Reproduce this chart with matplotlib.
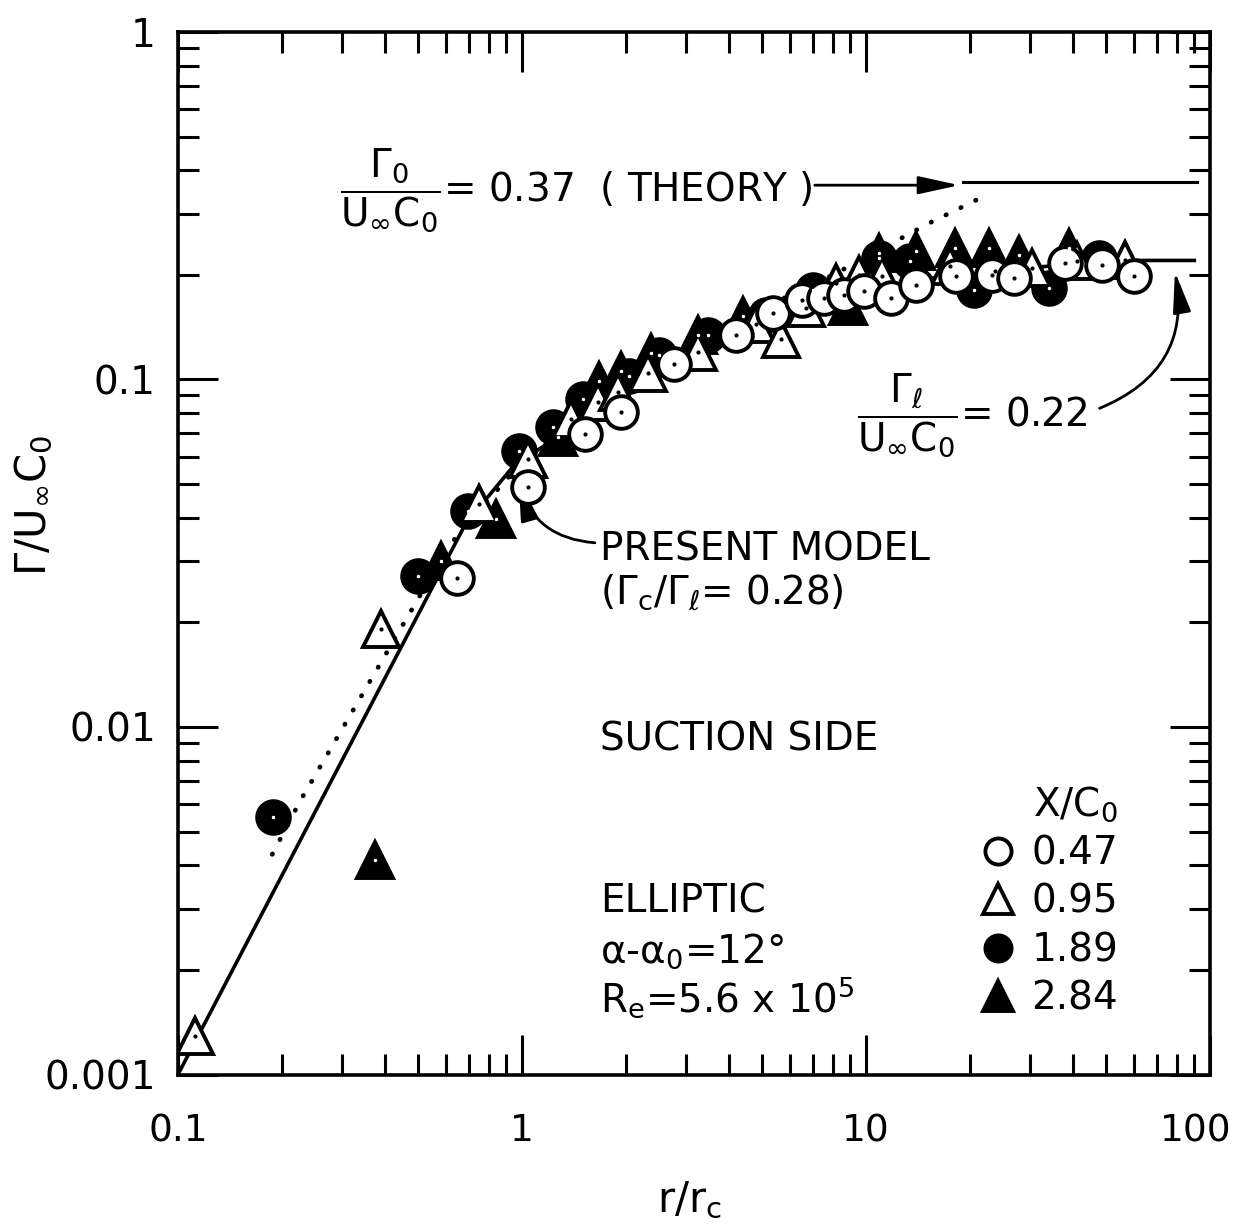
import matplotlib.pyplot as plt
from matplotlib.ticker import NullFormatter
from matplotlib.transforms import ScaledTranslation

plt.rcParams['font.family'] = 'DejaVu Sans'
plt.rcParams['mathtext.fontset'] = 'dejavusans'
plt.rcParams['mathtext.default'] = 'regular'

r_047 = [0.646, 1.04, 1.52, 1.94, 2.77, 4.19, 5.37, 6.53, 7.57, 8.65, 9.89, 11.85, 14.0, 18.3, 23.2, 26.9, 37.8, 48.5, 60.1]
g_047 = [0.0268, 0.0491, 0.0698, 0.0808, 0.1105, 0.134, 0.155, 0.169, 0.1715, 0.175, 0.1796, 0.1715, 0.187, 0.1985, 0.2, 0.196, 0.2165, 0.2135, 0.1985]

r_095 = [0.112, 0.388, 0.748, 1.04, 1.387, 1.66, 1.90, 2.32, 3.25, 4.80, 5.67, 6.71, 8.20, 9.51, 11.1, 17.5, 23.7, 30.3, 41.0, 56.6]
g_095 = [0.00129, 0.0191, 0.0438, 0.0591, 0.0771, 0.0864, 0.0923, 0.1047, 0.1197, 0.144, 0.1305, 0.1604, 0.19, 0.2, 0.1985, 0.212, 0.205, 0.209, 0.219, 0.221]

r_189 = [0.189, 0.50, 0.695, 0.978, 1.23, 1.50, 2.05, 2.50, 3.47, 5.13, 7.03, 10.9, 13.4, 20.6, 34.0, 47.5]
g_189 = [0.0055, 0.0272, 0.0418, 0.0623, 0.0731, 0.0881, 0.102, 0.1173, 0.134, 0.153, 0.181, 0.224, 0.219, 0.181, 0.183, 0.224]

r_284 = [0.375, 0.58, 0.838, 1.27, 1.67, 1.94, 2.37, 3.25, 4.40, 8.89, 10.9, 14.0, 18.1, 22.7, 27.8, 38.9]
g_284 = [0.00413, 0.030, 0.0397, 0.0685, 0.0993, 0.1055, 0.119, 0.134, 0.152, 0.1626, 0.231, 0.234, 0.239, 0.239, 0.228, 0.239]

stations = ['0.47', '0.95', '1.89', '2.84']

# present model (solid) and dotted curve
r_model = [0.1, 0.685, 0.94, 1.12, 2.0, 4.0, 8.0, 15.0, 30.0, 60.0, 90.0]
g_model = [0.001, 0.0384, 0.056, 0.063, 0.09, 0.13, 0.17, 0.195, 0.21, 0.22, 0.22]

r_dot = [0.188, 0.226, 0.514, 0.64, 1.0, 2.0, 4.0, 7.5, 15.3, 21.0]
g_dot = [0.0043, 0.0061, 0.0246, 0.035, 0.058, 0.095, 0.145, 0.193, 0.282, 0.329]

# theory level
r_theory = [19.2, 91.6]
g_theory = [0.37, 0.37]

x_ticks = [0.1, 1, 10, 100]
x_ticklabels = ['0.1', '1', '10', '100']
y_ticks = [0.001, 0.01, 0.1, 1]
y_ticklabels = ['0.001', '0.01', '0.1', '1']

FS = 28
ms = 23.5
mew = 2.8

fig = plt.figure(figsize=(12.36, 12.28), dpi=100)
ax = fig.add_axes([0.144, 0.125, 0.835, 0.849])
ax.set_xscale('log')
ax.set_yscale('log')
ax.set_xlim(0.1, 100)
ax.set_ylim(0.001, 1)

ax.plot(r_model, g_model, color='k', lw=2.6, zorder=2)
ax.plot(r_theory, g_theory, color='k', lw=2.2, zorder=2)
ax.plot(r_dot, g_dot, color='k', lw=3.4, linestyle=(0, (0.1, 3.4)),
        dash_capstyle='round', zorder=2)

h284, = ax.plot(r_284, g_284, '^', ms=ms + 3, mfc='k', mec='k', mew=mew, ls='none', zorder=3)
h189, = ax.plot(r_189, g_189, 'o', ms=ms, mfc='k', mec='k', mew=mew, ls='none', zorder=3)
h095, = ax.plot(r_095, g_095, '^', ms=ms + 3, mfc='white', mec='k', mew=mew, ls='none', zorder=4)
h047, = ax.plot(r_047, g_047, 'o', ms=ms, mfc='white', mec='k', mew=mew, ls='none', zorder=4)
# centre dots of the plotting symbols
ax.plot(r_284, g_284, '.', ms=3, color='white', zorder=5)
ax.plot(r_189, g_189, '.', ms=3, color='white', zorder=5)
ax.plot(r_095, g_095, '.', ms=4, color='k', zorder=5)
ax.plot(r_047, g_047, '.', ms=4, color='k', zorder=5)

ax.set_xticks(x_ticks, labels=x_ticklabels)
ax.set_yticks(y_ticks, labels=y_ticklabels)
ax.xaxis.set_minor_formatter(NullFormatter())
ax.yaxis.set_minor_formatter(NullFormatter())
ax.tick_params(which='both', direction='in', top=True, right=True, width=2.2, labelsize=FS)
ax.tick_params(which='major', length=29)
ax.tick_params(which='minor', length=15)
ax.tick_params(axis='x', which='major', pad=28, labelsize=27)
ax.tick_params(axis='y', which='major', pad=16)
for s in ax.spines.values():
    s.set_linewidth(2.6)

# the last x label sits a little left of its tick, as in the original
last = ax.xaxis.get_major_ticks()[-1].label1
last.set_transform(last.get_transform() + ScaledTranslation(-10 / 72, 0, fig.dpi_scale_trans))

ax.set_ylabel(r'$\Gamma/U_{\infty}C_0$', fontsize=30)
ax.yaxis.set_label_coords(-0.119, 0.546)
ax.set_xlabel(r'$r/r_c$', fontsize=30)
ax.xaxis.set_label_coords(0.496, -0.100)
ax.xaxis.label.set_va('top')

tr = ax.transAxes
ax.text(0.157, 0.848, r'$\dfrac{\Gamma_0}{U_{\infty}C_0}$= 0.37  ( THEORY )', transform=tr,
        fontsize=FS, ha='left', va='center')
ax.annotate('', xy=(0.757, 0.853), xytext=(0.617, 0.853), xycoords=tr, textcoords=tr,
            arrowprops=dict(arrowstyle='-|>,head_length=1.0,head_width=0.22', lw=2, color='k',
                            mutation_scale=25, shrinkA=0, shrinkB=0))

ax.text(0.658, 0.632, r'$\dfrac{\Gamma_\ell}{U_{\infty}C_0}$= 0.22', transform=tr,
        fontsize=FS, ha='left', va='center')
ax.annotate('', xy=(0.966, 0.770), xytext=(0.893, 0.639), xycoords=tr, textcoords=tr,
            arrowprops=dict(arrowstyle='-|>,head_length=1.0,head_width=0.22', lw=2, color='k',
                            mutation_scale=25, shrinkA=0, shrinkB=0,
                            connectionstyle='arc3,rad=0.4'))

ax.text(0.409, 0.493, 'PRESENT MODEL', transform=tr, fontsize=FS, ha='left', va='baseline')
ax.text(0.409, 0.452, r'($\Gamma_c/\Gamma_\ell$= 0.28)', transform=tr, fontsize=FS,
        ha='left', va='baseline')
ax.annotate('', xy=(0.330, 0.570), xytext=(0.404, 0.510), xycoords=tr, textcoords=tr,
            arrowprops=dict(arrowstyle='-|>,head_length=1.0,head_width=0.22', lw=2, color='k',
                            mutation_scale=25, shrinkA=0, shrinkB=0,
                            connectionstyle='arc3,rad=-0.35'))

ax.text(0.409, 0.311, 'SUCTION SIDE', transform=tr, fontsize=FS, ha='left', va='baseline')
ax.text(0.409, 0.155, 'ELLIPTIC', transform=tr, fontsize=FS, ha='left', va='baseline')
ax.text(0.409, 0.107, r'$\alpha$-$\alpha_0$=12°', transform=tr, fontsize=FS, ha='left', va='baseline')
ax.text(0.409, 0.060, r'R$_e$=5.6 x 10$^5$', transform=tr, fontsize=FS, ha='left', va='baseline')

leg = ax.legend([h047, h095, h189, h284], stations, title=r'X/C$_0$', loc='upper left',
                bbox_to_anchor=(0.757, 0.297), frameon=False, fontsize=FS, title_fontsize=FS,
                handletextpad=0.35, labelspacing=0.27, alignment='right', borderpad=0,
                handlelength=1.0, markerscale=0.8)

fig.savefig('out.png', dpi=100)
